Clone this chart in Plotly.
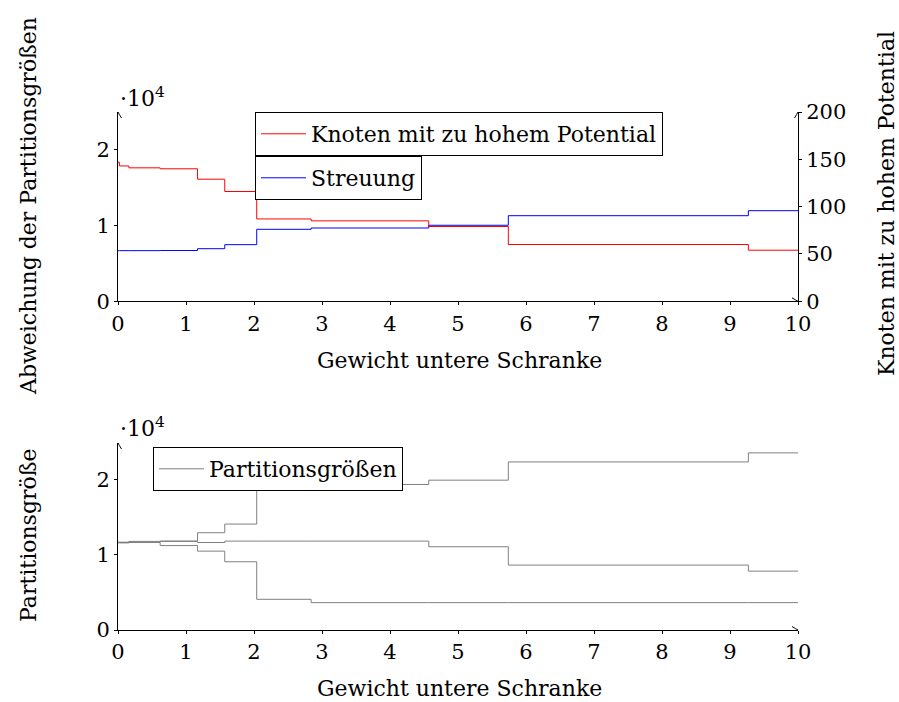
import plotly.graph_objects as go

# ---------------- data ----------------
gewicht = [0, 0.02, 0.16, 0.62, 1.17, 1.57, 2.04, 2.84, 4.57, 5.74, 9.27, 10]
knoten_potential = [147, 143, 141, 140, 129, 116, 87, 85, 79, 60, 54, 54]
streuung = [6660, 6660, 6660, 6680, 6920, 7450, 9470, 9640, 10000, 11260, 11920, 11920]

partition_a = [11650, 11650, 11750, 11800, 12900, 14050, 18850, 19300, 19870, 22290, 23490, 23490]
partition_b = [11600, 11600, 11650, 11750, 11600, 11790, 11790, 11790, 11040, 8610, 7810, 7810]
partition_c = [11550, 11550, 11600, 11200, 10460, 9050, 4070, 3630, 3630, 3630, 3630, 3630]

x_ticks = list(range(0, 11))
left_tickvals = [0, 10000, 20000]
left_ticktext = ["0", "1", "2"]
right_tickvals = [0, 50, 100, 150, 200]

FONT = "DejaVu Serif"
FS = 22      # words
FS_T = 21    # tick labels
W, H = 899, 702
X0, X1 = 118, 798        # plot left / right (px)
Y_TOP, Y_BOT = 112, 630  # plot top / bottom (px)
ML, MR, MT, MB = X0, W - X1, Y_TOP, H - Y_BOT
PW, PH = X1 - X0, Y_BOT - Y_TOP
X_RANGE = [0, 10]
Y_LEFT_RANGE = [0, 24900]
Y_RIGHT_RANGE = [0, 200]
Y_BOT_RANGE = [0, 24800]


def px_x(p):
    return (p - X0) / PW


def px_y(p):
    return (Y_BOT - p) / PH


fig = go.Figure()

fig.add_trace(go.Scatter(x=gewicht, y=knoten_potential, mode="lines", line_shape="hv",
                         line=dict(color="#ff0000", width=1),
                         name="Knoten mit zu hohem Potential",
                         xaxis="x", yaxis="y2", legend="legend"))
fig.add_trace(go.Scatter(x=gewicht, y=streuung, mode="lines", line_shape="hv",
                         line=dict(color="#0000ff", width=1),
                         name="Streuung", xaxis="x", yaxis="y", legend="legend2"))

for i, ser in enumerate([partition_a, partition_b, partition_c]):
    fig.add_trace(go.Scatter(x=gewicht, y=ser, mode="lines", line_shape="hv",
                             line=dict(color="#808080", width=1),
                             name="Partitionsgrößen", showlegend=(i == 0),
                             xaxis="x2", yaxis="y3", legend="legend3"))

top_bottom = px_y(301.3)
bot_top = px_y(443)

axis_common = dict(showline=True, linecolor="black", linewidth=1, showgrid=False,
                   zeroline=False, ticks="outside", ticklen=3, tickcolor="black",
                   tickfont=dict(family=FONT, size=FS_T, color="black"))
# companion axes that only draw the inner half of the crossing tick marks
inner = dict(showline=False, showgrid=False, zeroline=False, ticks="inside", ticklen=3,
             tickcolor="black", showticklabels=False)

legend_common = dict(xanchor="left", yanchor="top", bgcolor="white",
                     bordercolor="black", borderwidth=1, itemwidth=45,
                     font=dict(family=FONT, size=FS, color="black"))

fig.update_layout(
    width=W, height=H,
    margin=dict(l=ML, r=MR, t=MT, b=MB, autoexpand=False),
    paper_bgcolor="white", plot_bgcolor="white",
    font=dict(family=FONT, size=FS, color="black"),
    xaxis=dict(domain=[0, 1], range=X_RANGE, tickvals=x_ticks, anchor="y", **axis_common),
    yaxis=dict(domain=[top_bottom, 1], range=Y_LEFT_RANGE, tickvals=left_tickvals,
               ticktext=left_ticktext, anchor="x", **axis_common),
    yaxis2=dict(range=Y_RIGHT_RANGE, tickvals=right_tickvals, overlaying="y", side="right",
                anchor="x", **axis_common),
    xaxis2=dict(domain=[0, 1], range=X_RANGE, tickvals=x_ticks, anchor="y3", **axis_common),
    yaxis3=dict(domain=[0, bot_top], range=Y_BOT_RANGE, tickvals=left_tickvals,
                ticktext=left_ticktext, anchor="x2", **axis_common),
    # inner tick halves
    xaxis3=dict(overlaying="x", anchor="y", range=X_RANGE, tickvals=x_ticks, side="bottom", **inner),
    yaxis4=dict(overlaying="y", anchor="x", range=Y_LEFT_RANGE, tickvals=left_tickvals,
                side="left", **inner),
    yaxis5=dict(overlaying="y", anchor="x", range=Y_RIGHT_RANGE, tickvals=right_tickvals,
                side="right", **inner),
    xaxis4=dict(overlaying="x2", anchor="y3", range=X_RANGE, tickvals=x_ticks, side="bottom", **inner),
    yaxis6=dict(overlaying="y3", anchor="x2", range=Y_BOT_RANGE, tickvals=left_tickvals,
                side="left", **inner),
    legend=dict(x=px_x(255), y=px_y(112), **legend_common),
    legend2=dict(x=px_x(255), y=px_y(156), **legend_common),
    legend3=dict(x=px_x(153), y=px_y(447), **legend_common),
    showlegend=True,
)

annotations = [
    dict(text="Abweichung der Partitionsgrößen", x=px_x(28), y=px_y(206), textangle=-90),
    dict(text="Knoten mit zu hohem Potential", x=px_x(886), y=px_y(204), textangle=-90),
    dict(text="Partitionsgröße", x=px_x(28), y=px_y(536), textangle=-90),
    dict(text="Gewicht untere Schranke", x=px_x(459), y=px_y(360)),
    dict(text="Gewicht untere Schranke", x=px_x(459), y=px_y(689)),
    dict(text="·10<sup>4</sup>", x=px_x(118), y=px_y(97), xanchor="left"),
    dict(text="·10<sup>4</sup>", x=px_x(118), y=px_y(427), xanchor="left"),
]
for a in annotations:
    a.update(xref="paper", yref="paper", showarrow=False,
             font=dict(family=FONT, size=FS, color="black"))
    a.setdefault("xanchor", "center")
    a.setdefault("yanchor", "middle")
fig.update_layout(annotations=annotations)

# arrow tips at the axis ends (open "->" heads, drawn in pixel units)
UP = "M -3.5,-6 Q -1,-2 0,0 Q 1,-2 3.5,-6"
RIGHT = "M -6,3.5 Q -2,1 0,0 Q -2,-1 -6,-3.5"
arrow_shapes = [
    dict(xref="x", yref="y", xanchor=X_RANGE[0], yanchor=Y_LEFT_RANGE[1], path=UP),
    dict(xref="x", yref="y2", xanchor=X_RANGE[1], yanchor=Y_RIGHT_RANGE[1], path=UP),
    dict(xref="x", yref="y", xanchor=X_RANGE[1], yanchor=Y_LEFT_RANGE[0], path=RIGHT),
    dict(xref="x2", yref="y3", xanchor=X_RANGE[0], yanchor=Y_BOT_RANGE[1], path=UP),
    dict(xref="x2", yref="y3", xanchor=X_RANGE[1], yanchor=Y_BOT_RANGE[0], path=RIGHT),
]
for s in arrow_shapes:
    s.update(type="path", xsizemode="pixel", ysizemode="pixel",
             line=dict(color="black", width=1), layer="above")
    fig.add_shape(**s)

# remove the default 8px page margin so the figure fills the window exactly
fig.write_html(
    "out.html",
    config={"displayModeBar": False},
    post_script="document.body.style.margin='0';"
                "document.documentElement.style.overflow='hidden';",
)
